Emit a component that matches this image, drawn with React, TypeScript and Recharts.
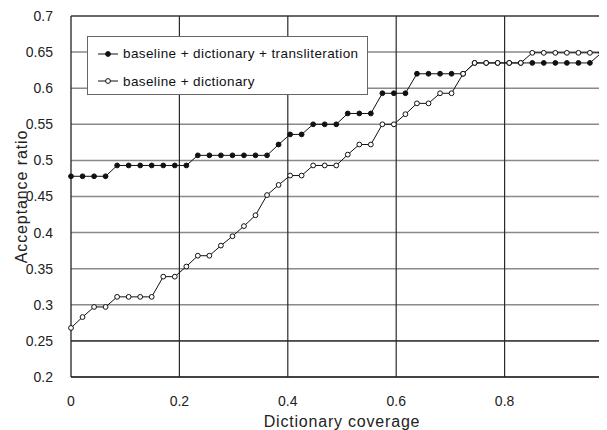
import { Legend, Line, LineChart, ReferenceLine, CartesianGrid, XAxis, YAxis } from "recharts"

// dictionary coverage of each measurement point
const coverage = [
  0, 0.0213, 0.0426, 0.0638, 0.0851, 0.1064, 0.1277, 0.1489, 0.1702, 0.1915,
  0.2128, 0.234, 0.2553, 0.2766, 0.2979, 0.3191, 0.3404, 0.3617, 0.383, 0.4043,
  0.4255, 0.4468, 0.4681, 0.4894, 0.5106, 0.5319, 0.5532, 0.5745, 0.5957, 0.617,
  0.6383, 0.6596, 0.6809, 0.7021, 0.7234, 0.7447, 0.766, 0.7872, 0.8085, 0.8298,
  0.8511, 0.8723, 0.8936, 0.9149, 0.9362, 0.9574, 0.9787,
]

// baseline + dictionary + transliteration
const withTranslit = [
  0.478, 0.478, 0.478, 0.478, 0.493, 0.493, 0.493, 0.493, 0.493, 0.493,
  0.493, 0.507, 0.507, 0.507, 0.507, 0.507, 0.507, 0.507, 0.522, 0.536,
  0.536, 0.55, 0.55, 0.55, 0.565, 0.565, 0.565, 0.593, 0.593, 0.593,
  0.62, 0.62, 0.62, 0.62, 0.62, 0.635, 0.635, 0.635, 0.635, 0.635,
  0.635, 0.635, 0.635, 0.635, 0.635, 0.635, 0.649,
]

// baseline + dictionary
const dictOnly = [
  0.268, 0.283, 0.297, 0.297, 0.311, 0.311, 0.311, 0.311, 0.339, 0.339,
  0.353, 0.368, 0.368, 0.382, 0.395, 0.409, 0.424, 0.452, 0.466, 0.479,
  0.479, 0.493, 0.493, 0.493, 0.508, 0.522, 0.522, 0.55, 0.55, 0.564,
  0.579, 0.579, 0.593, 0.593, 0.62, 0.635, 0.635, 0.635, 0.635, 0.635,
  0.649, 0.649, 0.649, 0.649, 0.649, 0.649, 0.649,
]

const xTicks = [0, 0.2, 0.4, 0.6, 0.8]
const yTicks = [0.2, 0.25, 0.3, 0.35, 0.4, 0.45, 0.5, 0.55, 0.6, 0.65, 0.7]
const darkRows = [0.25]

const seriesNames = ["baseline + dictionary + transliteration", "baseline + dictionary"]

const data = coverage.map((x, i) => ({ x, a: withTranslit[i], b: dictOnly[i] }))

const font = "'Liberation Sans', Arial, sans-serif"

function LegendBox() {
  return (
    <div
      style={{
        width: 281,
        height: 59,
        boxSizing: "border-box",
        border: "1px solid #666",
        background: "#fff",
        padding: "3px 0 0 10px",
        fontFamily: font,
        fontSize: 13.5,
        letterSpacing: 0.4,
        color: "#111",
        whiteSpace: "nowrap",
      }}
    >
      {seriesNames.map((name, i) => (
        <div key={name} style={{ height: 27.5, display: "flex", alignItems: "center" }}>
          <svg width={20} height={10} style={{ marginRight: 5 }}>
            <line x1={0} y1={5} x2={20} y2={5} stroke="#111" strokeWidth={1} />
            <circle cx={10} cy={5} r={2.4} fill={i === 0 ? "#111" : "#fff"} stroke="#111" strokeWidth={1} />
          </svg>
          <span>{name}</span>
        </div>
      ))}
    </div>
  )
}

export default function App() {
  return (
    <div style={{ width: 599, height: 422, overflow: "hidden", background: "#fff" }}>
      <LineChart width={605} height={422} data={data} margin={{ top: 8, right: 0, bottom: 0, left: 0 }}>
        <CartesianGrid vertical={false} stroke="#8a8a8a" strokeWidth={1.5} />
        {darkRows.map((v) => (
          <ReferenceLine key={v} y={v} stroke="#2a2a2a" strokeWidth={1.3} />
        ))}
        <ReferenceLine y={0.7} stroke="#555" strokeWidth={1.5} />
        {xTicks.slice(1).map((v) => (
          <ReferenceLine key={v} x={v} stroke="#2a2a2a" strokeWidth={1.2} />
        ))}
        <XAxis
          type="number"
          dataKey="x"
          domain={[0, 1]}
          ticks={xTicks}
          height={53}
          tickLine={false}
          tickMargin={13}
          axisLine={{ stroke: "#222", strokeWidth: 1.3 }}
          tick={{ fill: "#222", fontSize: 14, fontFamily: font }}
          label={{
            value: "Dictionary coverage",
            position: "insideBottom",
            offset: 3,
            style: { fill: "#222", fontSize: 16, letterSpacing: 0.8, fontFamily: font },
          }}
        />
        <YAxis
          type="number"
          domain={[0.2, 0.7]}
          ticks={yTicks}
          width={63}
          tickLine={false}
          tickMargin={12}
          axisLine={{ stroke: "#222", strokeWidth: 1.3 }}
          tick={{ fill: "#222", fontSize: 14, fontFamily: font }}
          label={{
            value: "Acceptance ratio",
            angle: -90,
            position: "insideLeft",
            offset: 13,
            style: { fill: "#222", fontSize: 16, letterSpacing: 0.9, fontFamily: font, textAnchor: "middle" },
          }}
        />
        <Legend
          layout="vertical"
          align="center"
          verticalAlign="middle"
          content={() => <LegendBox />}
          wrapperStyle={{ left: 79, top: 28, width: 281, height: 59 }}
        />
        <Line
          dataKey="a"
          name={seriesNames[0]}
          stroke="#111"
          strokeWidth={1}
          dot={{ r: 2.4, fill: "#111", stroke: "#111", strokeWidth: 1 }}
          isAnimationActive={false}
        />
        <Line
          dataKey="b"
          name={seriesNames[1]}
          stroke="#111"
          strokeWidth={1}
          dot={{ r: 2.4, fill: "#fff", stroke: "#111", strokeWidth: 1 }}
          isAnimationActive={false}
        />
      </LineChart>
    </div>
  )
}
